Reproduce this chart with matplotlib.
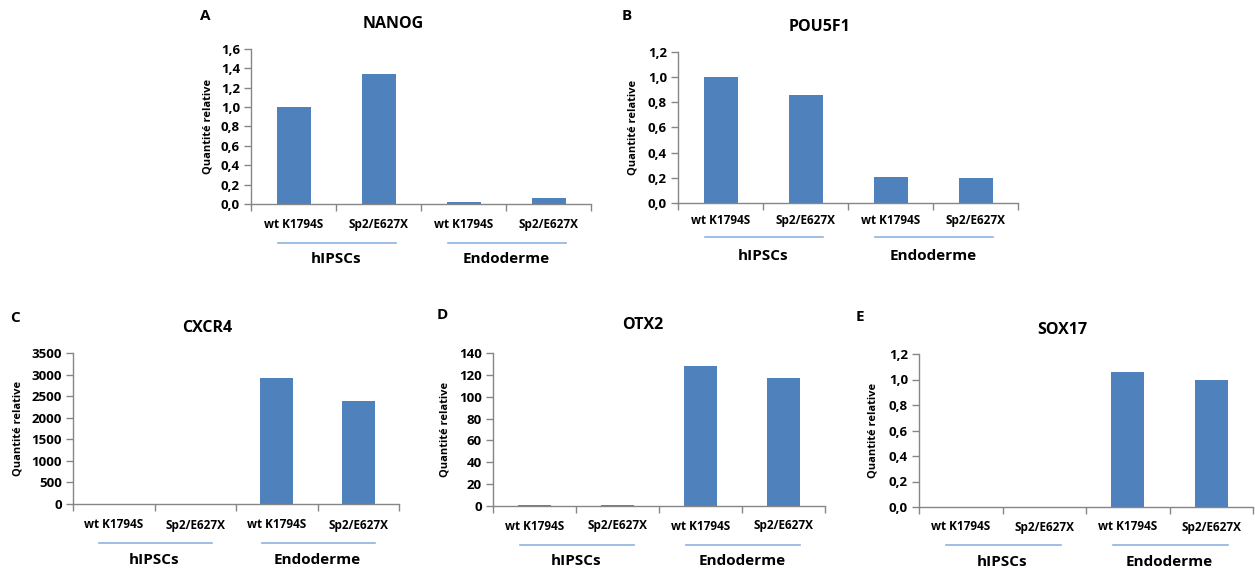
import matplotlib
matplotlib.use("Agg")
import matplotlib.pyplot as plt
from matplotlib import transforms

plt.rcParams['font.family'] = ['Open Sans', 'DejaVu Sans']
plt.rcParams['font.weight'] = 'bold'

W, H = 1255, 573

categories = ["wt K1794S", "Sp2/E627X", "wt K1794S", "Sp2/E627X"]
groups = ["hIPSCs", "Endoderme"]

nanog = [1.0, 1.34, 0.025, 0.06]
pou5f1 = [1.0, 0.86, 0.21, 0.195]
cxcr4 = [1.0, 1.0, 2910, 2390]
otx2 = [1.0, 1.0, 128.5, 117.5]
sox17 = [0.0, 0.0, 1.06, 1.0]

titles = ["NANOG", "POU5F1", "CXCR4", "OTX2", "SOX17"]
letters = ["A", "B", "C", "D", "E"]
values = [nanog, pou5f1, cxcr4, otx2, sox17]
ymaxes = [1.6, 1.2, 3500, 140, 1.2]
ysteps = [0.2, 0.2, 500, 20, 0.2]
decimal = [True, True, False, False, True]

# layout (pixels): x0, x1, ytop, ybottom, title_x, title_y, letter_x, letter_y, ylabel_x
layout = [
    (251, 591, 49, 204, 393, 24, 205, 16, 208),
    (678, 1018, 52, 203, 820, 27, 627, 16, 633),
    (73, 399, 353, 504, 207, 328, 15, 318, 18),
    (493, 825, 353, 506, 643, 325, 442, 315, 445),
    (919, 1253, 354, 507, 1062, 330, 860, 317, 873),
]
# offsets below axis (px): category labels, group line, group label
offsets = [(21, 39, 55), (18, 34, 53), (21, 39, 56), (20, 39, 55), (20, 38, 55)]

bar_color = "#4F81BD"
line_color = "#8DB3E2"
axis_color = "#868686"

fig = plt.figure(figsize=(W / 100, H / 100), dpi=100)

def fx(x):
    return x / W

def fy(y):
    return 1 - y / H

for k in range(5):
    x0, x1, yt, yb, tx, ty, lx, ly, ylx = layout[k]
    ax = fig.add_axes([fx(x0), fy(yb), (x1 - x0) / W, (yb - yt) / H])
    xs = [i + 0.5 for i in range(len(categories))]
    ax.bar(xs, values[k], width=0.4, color=bar_color, zorder=2)
    ax.set_xlim(0, 4)
    ax.set_ylim(0, ymaxes[k])
    n = int(round(ymaxes[k] / ysteps[k]))
    ticks = [i * ysteps[k] for i in range(n + 1)]
    ax.set_yticks(ticks)
    if decimal[k]:
        ax.set_yticklabels([f"{t:.1f}".replace(".", ",") for t in ticks])
    else:
        ax.set_yticklabels([f"{int(round(t))}" for t in ticks])
    ax.set_xticks([0, 1, 2, 3, 4])
    ax.set_xticklabels([])
    for s in ["top", "right"]:
        ax.spines[s].set_visible(False)
    for s in ["left", "bottom"]:
        ax.spines[s].set_color(axis_color)
        ax.spines[s].set_linewidth(1.0)
    ax.tick_params(axis="y", direction="out", length=5, width=1, color=axis_color,
                   labelsize=9.5, pad=3)
    ax.tick_params(axis="x", direction="out", length=5, width=1, color=axis_color)
    for lab in ax.get_yticklabels():
        lab.set_fontweight("bold")
    ax.patch.set_alpha(0)

    hpx = yb - yt
    tr = transforms.blended_transform_factory(ax.transData, ax.transAxes)
    oc, ol, og = offsets[k]
    for i, c in enumerate(categories):
        ax.text(i + 0.5, -oc / hpx, c, transform=tr, ha="center", va="center",
                fontsize=8.5, fontweight="bold", clip_on=False)
    for gi, g in enumerate(groups):
        c = 1 + 2 * gi
        ax.plot([c - 0.68, c + 0.7], [-ol / hpx, -ol / hpx], transform=tr,
                color=line_color, lw=1.2, clip_on=False)
        ax.text(c, -og / hpx, g, transform=tr, ha="center", va="center",
                fontsize=11, fontweight="bold", clip_on=False)

    fig.text(fx(tx), fy(ty), titles[k], ha="center", va="center", fontsize=11.5,
             fontweight="bold")
    fig.text(fx(lx), fy(ly), letters[k], ha="center", va="center", fontsize=11,
             fontweight="bold")
    fig.text(fx(ylx), fy((yt + yb) / 2), "Quantité relative", rotation=90,
             ha="center", va="center", fontsize=8, fontweight="bold")

fig.savefig("out.png", dpi=100, facecolor="white")
